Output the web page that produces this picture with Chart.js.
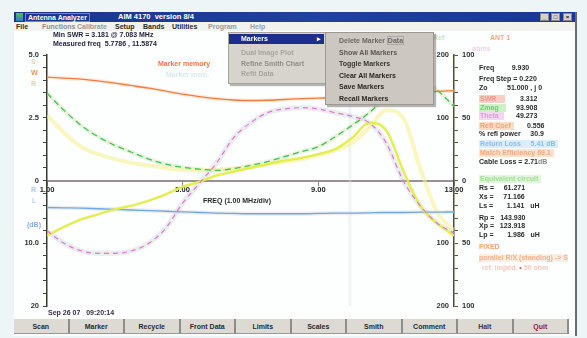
<!DOCTYPE html>
<html>
<head>
<meta charset="utf-8">
<script src="https://cdn.jsdelivr.net/npm/chart.js@4.4.0/dist/chart.umd.min.js"></script>
<style>
  html, body { margin: 0; padding: 0; }
  body {
    width: 587px; height: 338px; overflow: hidden; position: relative;
    background: #edf5f7;
    font-family: "Liberation Sans", Arial, sans-serif; font-weight: bold; font-size: 7px; color: #2a2a2a;
    filter: blur(0.3px);
  }
  .t { position: absolute; white-space: nowrap; line-height: 8px; z-index: 2; }
  #win { position: absolute; left: 14px; top: 12px; width: 561px; height: 324px; background: #fdfefe; border-right: 2px solid #6c6c6c; }
  #titlebar { position: absolute; left: 14px; top: 12px; width: 561px; height: 10px; z-index: 2;
    background: linear-gradient(to right, #1b3490, #22409f 55%, #1a3696); color: #fff; }
  #menubar { position: absolute; left: 14px; top: 22px; width: 561px; height: 9px; background: #f2f2ee; z-index: 2; }
  .wbtn { position: absolute; top: 1px; width: 9px; height: 8px; background: #d6d2ca; border: 1px solid #888; box-sizing: border-box;
    color: #111; font-size: 6px; line-height: 6px; text-align: center; }
  .dd { position: absolute; z-index: 3; box-shadow: 2px 2px 1px rgba(90,90,90,0.45); }
  .dd div { position: absolute; white-space: nowrap; line-height: 8px; }
  #chart { position: absolute; left: 0; top: 0; z-index: 1; }
  #buttons { position: absolute; left: 14px; top: 319px; width: 555px; height: 15px; z-index: 2; display: flex; }
  #buttons div { flex: 1; background: #dddad3; border-right: 2px solid #8c8c8c; border-bottom: 1px solid #9a9a9a;
    text-align: center; line-height: 15px; color: #2a2a2a; }
  .box { padding: 0 3px 0 1px; }
</style>
</head>
<body>
<div id="win"></div>
<div id="titlebar">
  <div class="t" style="left:2px;top:1px;width:7px;height:8px;background:linear-gradient(#5bc04a,#2a7bd0);"></div>
  <div class="t" style="left:11px;top:1px;color:#fff;border:1px solid #6a86d0;padding:0 2px;line-height:7px;">Antenna Analyzer</div>
  <div class="t" style="left:104px;top:1px;color:#fff;font-size:7.5px;">AIM 4170&nbsp;&nbsp;version 8/4</div>
  <div class="wbtn" style="left:526px;">_</div>
  <div class="wbtn" style="left:537px;">□</div>
  <div class="wbtn" style="left:549px;">×</div>
</div>
<div id="menubar">
  <div class="t" style="left:2px;top:1px;">File</div>
  <div class="t" style="left:28px;top:1px;color:#8f8f8f;">Functions</div>
  <div class="t" style="left:63px;top:1px;color:#9a9a9a;">Calibrate</div>
  <div class="t" style="left:101px;top:1px;">Setup</div>
  <div class="t" style="left:129px;top:1px;">Bands</div>
  <div class="t" style="left:158px;top:1px;">Utilities</div>
  <div class="t" style="left:194px;top:1px;color:#9a9a9a;">Program</div>
  <div class="t" style="left:236px;top:1px;color:#a0a0a0;">Help</div>
</div>

<!-- header text -->
<div class="t" style="left:53px;top:31px;color:#1e1e3a;">Min SWR = 3.181 @ 7.083 MHz</div>
<div class="t" style="left:53px;top:40px;color:#1e1e3a;">Measured freq&nbsp; 5.7786 , 11.5874</div>
<div class="t" style="left:158px;top:60px;color:#f2744a;">Marker memory</div>
<div class="t" style="left:166px;top:71px;color:#d8e8ec;">Marker mem.</div>
<div class="t" style="left:433px;top:34px;color:#bfe8b8;">Ref</div>
<div class="t" style="left:490px;top:34px;color:#f4a880;">ANT 1</div>
<div class="t" style="left:472px;top:45px;color:#f0d0e8;">ohms</div>

<!-- vertical axis captions -->
<div class="t" style="left:31px;top:58px;color:#f8c8a8;">S</div>
<div class="t" style="left:31px;top:69px;color:#f0924e;">W</div>
<div class="t" style="left:31px;top:80px;color:#f8c8a8;">R</div>
<div class="t" style="left:31px;top:186px;color:#a8c8f0;">R</div>
<div class="t" style="left:32px;top:197px;color:#b8d0f0;">L</div>
<div class="t" style="left:27px;top:221px;color:#88b0e0;">(dB)</div>

<!-- x axis caption -->
<div class="t" style="left:203px;top:197px;color:#2a2a2a;">FREQ (1.00 MHz/div)</div>

<!-- right readout panel -->
<div class="t" style="left:479px;top:64px;">Freq&nbsp;&nbsp;&nbsp;&nbsp;&nbsp;&nbsp;&nbsp;&nbsp; 9.930</div>
<div class="t" style="left:479px;top:75px;">Freq Step = 0.220</div>
<div class="t" style="left:479px;top:84px;">Zo&nbsp;&nbsp;&nbsp;&nbsp;&nbsp;&nbsp;&nbsp;&nbsp;&nbsp; 51.000 , j 0</div>
<div class="t box" style="left:479px;top:95px;background:#f8cfc6;color:#ee9a88;">SWR&nbsp;&nbsp;&nbsp;</div>
<div class="t" style="left:520px;top:95px;">3.312</div>
<div class="t box" style="left:479px;top:104px;background:#cdf2c6;color:#70cc70;">Zmag&nbsp;&nbsp;</div>
<div class="t" style="left:516px;top:104px;">93.908</div>
<div class="t box" style="left:479px;top:112px;background:#f4d8f2;color:#d8a0d4;">Theta&nbsp;</div>
<div class="t" style="left:516px;top:112px;">49.273</div>
<div class="t box" style="left:479px;top:122px;background:#fbdcc6;color:#f2a47a;">Refl Coef</div>
<div class="t" style="left:527px;top:122px;">0.556</div>
<div class="t" style="left:479px;top:130px;">% refl power&nbsp;&nbsp;&nbsp;&nbsp; 30.9</div>
<div class="t box" style="left:479px;top:140px;background:#dbeefa;color:#8cbce6;">Return Loss&nbsp;&nbsp;&nbsp;&nbsp; 5.41 dB</div>
<div class="t box" style="left:479px;top:149px;background:#fce2d0;color:#f4aa80;">Match Efficiency 69.1</div>
<div class="t" style="left:479px;top:158px;">Cable Loss = 2.71<span style="color:#888;">dB</span></div>
<div class="t box" style="left:479px;top:175px;background:#e2f6dc;color:#a2dc98;">Equivalent circuit</div>
<div class="t" style="left:479px;top:184px;">Rs =&nbsp;&nbsp;&nbsp;&nbsp; 61.271</div>
<div class="t" style="left:479px;top:193px;">Xs =&nbsp;&nbsp;&nbsp;&nbsp; 71.166</div>
<div class="t" style="left:479px;top:202px;">Ls =&nbsp;&nbsp;&nbsp;&nbsp;&nbsp;&nbsp; 1.141&nbsp;&nbsp; uH</div>
<div class="t" style="left:479px;top:214px;">Rp =&nbsp;&nbsp; 143.930</div>
<div class="t" style="left:479px;top:222px;">Xp =&nbsp;&nbsp; 123.918</div>
<div class="t" style="left:479px;top:231px;">Lp =&nbsp;&nbsp;&nbsp;&nbsp;&nbsp;&nbsp; 1.986&nbsp;&nbsp; uH</div>
<div class="t" style="left:479px;top:243px;color:#f4a070;">FIXED</div>
<div class="t" style="left:479px;top:254px;color:#f4b088;background:#fdeee4;">parallel R/X (standing) -&gt; S</div>
<div class="t" style="left:482px;top:264px;color:#f6c8b8;">ref. imped. <span style="color:#f05040;">•</span> 50 ohm</div>

<div class="t" style="left:48px;top:309px;color:#3a2c46;">Sep 26 07&nbsp;&nbsp; 09:20:14</div>

<!-- open menus -->
<div class="dd" style="left:228px;top:32px;width:97px;height:50px;background:#d7d4cd;border:1px solid #a8a49c;">
  <div style="left:0;top:1px;width:95px;height:10px;background:#1c2d8c;"></div>
  <div style="left:12px;top:2px;color:#fff;">Markers</div>
  <div style="left:88px;top:2px;color:#fff;">▸</div>
  <div style="left:12px;top:16px;color:#a6a49e;">Dual Image Plot</div>
  <div style="left:12px;top:27px;color:#8e8c86;">Refine Smith Chart</div>
  <div style="left:12px;top:37px;color:#a6a49e;">Refit Data</div>
</div>
<div class="dd" style="left:325px;top:32px;width:107px;height:71px;background:#ccc8c1;border:1px solid #9c988f;">
  <div style="left:13px;top:4px;color:#6a6862;">Delete Marker <span style="border:1px solid #aaa;">Data</span></div>
  <div style="left:13px;top:16px;color:#5a5852;">Show All Markers</div>
  <div style="left:13px;top:27px;color:#3a3832;">Toggle Markers</div>
  <div style="left:13px;top:39px;color:#2a2822;">Clear All Markers</div>
  <div style="left:13px;top:50px;color:#2a2822;">Save Markers</div>
  <div style="left:13px;top:62px;color:#2a2822;">Recall Markers</div>
</div>

<div id="buttons">
  <div>Scan</div><div>Marker</div><div>Recycle</div><div>Front Data</div><div>Limits</div>
  <div>Scales</div><div>Smith</div><div>Comment</div><div style="color:#4a3042;">Halt</div><div style="color:#96203a;">Quit</div>
</div>

<canvas id="chart" width="587" height="338"></canvas>

<script>
// Sweep 1 - 13 MHz
const freqs = [1, 1.5, 2, 2.5, 3, 3.5, 4, 4.5, 5, 5.5, 6, 6.5, 7, 7.5, 8, 8.5, 9, 9.5, 10, 10.5, 11, 11.5, 12, 12.5, 13];
const swr = [4.12, 4.08, 4.04, 3.97, 3.88, 3.78, 3.68, 3.56, 3.44, 3.34, 3.26, 3.21, 3.19, 3.2, 3.23, 3.26, 3.28, 3.3, 3.31, 3.35, 3.41, 3.47, 3.52, 3.55, 3.58];
const zmag = [139, 112, 88, 70, 56, 45, 34, 26, 21, 18, 16, 19, 24, 30, 38, 46, 54, 70, 88, 108, 133, 152, 160, 144, 118];
const theta = [-40, -50, -56, -58, -58, -56, -50, -38, -18, -2, 14, 34, 46, 54, 57, 58, 57, 54, 51, 46, 30, 0, -20, -34, -42];
const rs = [52, 38, 27, 21, 17, 14, 12, 10, 8.5, 8, 8.5, 9.5, 11, 13, 15, 17, 20, 24, 30, 42, 56, 50, 10, -25, -40];
const xs = [-44, -37, -31, -27, -23, -20, -16, -11, -5, -1, 4, 7, 10, 13, 16, 18, 21, 25, 34, 46, 40, 8, -20, -34, -44];
const returnLoss = [4.3, 4.35, 4.4, 4.5, 4.6, 4.7, 4.8, 4.9, 5.0, 5.1, 5.2, 5.25, 5.3, 5.3, 5.3, 5.3, 5.25, 5.2, 5.2, 5.15, 5.1, 5.1, 5.05, 5.05, 5.0];
const markerFreq = 9.93;

const freqTicks = [1, 5, 9, 13];
const leftTickLabels = { '5.0': '5.0', '2.5': '2.5', '0.0': '0', '-2.5': '10.0', '-5.0': '20' };
const rightInnerLabels = [[100, '200'], [50, '100'], [-50, '100'], [-100, '200']];

const pts = values => freqs.map((f, i) => ({ x: f, y: values[i] }));

function line(values, axis, color, width, dash) {
  return {
    data: pts(values), yAxisID: axis, borderColor: color, borderWidth: width,
    borderDash: dash || [], pointRadius: 0, fill: false, cubicInterpolationMode: 'monotone',
  };
}

const tickFont = { family: '"Liberation Sans", Arial, sans-serif', size: 7.5, weight: 'bold' };

// labels for the scale drawn just inside the right axis
const innerLabels = {
  id: 'innerLabels',
  afterDraw(chart) {
    const { ctx, chartArea } = chart;
    const s = chart.scales.ohm;
    ctx.save();
    ctx.font = 'bold 7.5px "Liberation Sans", Arial, sans-serif';
    ctx.fillStyle = '#333';
    ctx.textAlign = 'right';
    ctx.textBaseline = 'middle';
    rightInnerLabels.forEach(([v, t]) => ctx.fillText(t, chartArea.right - 5, s.getPixelForValue(v)));
    ctx.restore();
  }
};

new Chart(document.getElementById('chart'), {
  type: 'line',
  data: {
    datasets: [
      line(swr, 'swr', '#f27a3c', 1.4),
      line(theta, 'ohm', '#e276d6', 1.2, [5, 4]),
      line(zmag, 'zmag', '#3cc655', 1.3, [6, 4]),
      line(xs, 'ohm', 'rgba(226,238,70,0.95)', 2.5),
      line(returnLoss, 'rl', '#72a6e2', 1.3),
      line(rs, 'ohm', 'rgba(246,240,150,0.6)', 4),
      // faint ghost traces under the main ones
      line(theta, 'ohm', 'rgba(190,190,195,0.28)', 5),
      line(zmag, 'zmag', 'rgba(205,225,170,0.4)', 4),
      line(returnLoss, 'rl', 'rgba(200,205,210,0.35)', 4),
      line(swr, 'swr', 'rgba(250,205,170,0.35)', 4),
      {
        data: [{ x: markerFreq, y: -100 }, { x: markerFreq, y: 100 }],
        yAxisID: 'ohm', borderColor: 'rgba(214,226,228,0.35)', borderWidth: 3, pointRadius: 0,
      },
    ]
  },
  options: {
    responsive: false,
    devicePixelRatio: 1,
    animation: false,
    layout: { padding: { top: 55, bottom: 32, left: 0, right: 0 } },
    plugins: { legend: { display: false }, tooltip: { enabled: false } },
    scales: {
      x: {
        type: 'linear', min: 1, max: 13, position: { swr: 0 },
        afterBuildTicks: s => { s.ticks = freqTicks.map(v => ({ value: v })); },
        ticks: { callback: v => v.toFixed(2), color: '#222', font: tickFont, maxRotation: 0, padding: 1 },
        grid: { drawOnChartArea: false, tickLength: 4, color: '#8a7f84' },
        border: { color: '#9c9096', width: 2 },
      },
      swr: {
        type: 'linear', axis: 'y', position: 'left', min: -5, max: 5,
        afterFit: s => { s.width = 47; },
        ticks: { stepSize: 0.5, autoSkip: false, color: '#333', font: tickFont, padding: 4,
          callback: v => leftTickLabels[Number(v).toFixed(1)] || '' },
        grid: { drawOnChartArea: false, tickLength: 4, color: '#444' },
        border: { color: '#3a3a2c', width: 1.5 },
      },
      ohm: {
        type: 'linear', axis: 'y', position: 'right', min: -100, max: 100,
        afterFit: s => { s.width = 133; },
        ticks: { stepSize: 10, autoSkip: false, color: '#333', font: tickFont, padding: 4,
          callback: v => (v % 50 === 0 ? String(Math.abs(v)) : '') },
        grid: { drawOnChartArea: false, tickLength: 4, color: '#55553a' },
        border: { color: '#4c4c32', width: 1.5 },
      },
      zmag: { type: 'linear', axis: 'y', display: false, min: -200, max: 200 },
      rl: { type: 'linear', axis: 'y', display: false, min: -20, max: 20, reverse: true },
    }
  },
  plugins: [innerLabels]
});
</script>
</body>
</html>
